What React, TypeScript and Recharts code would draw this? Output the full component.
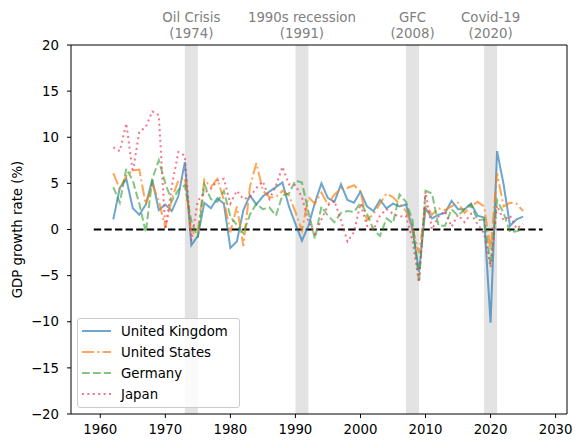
import React from 'react'
import { LineChart, Line, XAxis, YAxis, ReferenceArea, ReferenceLine } from 'recharts'

// years on the x axis (one value per year)
const years: number[] = Array.from({ length: 64 }, (_, i) => 1962 + i)

// annual GDP growth, %
const uk = [
  1.1, 4.5, 5.5, 2.3, 1.6, 2.7, 5.4, 2.1, 2.7, 2.0,
  3.6, 7.3, -1.7, -0.7, 2.9, 2.3, 3.4, 2.8, -2.0, -1.3,
  2.1, 3.7, 2.7, 3.6, 4.1, 4.6, 5.1, 2.5, 0.6, -1.2,
  0.4, 2.9, 5.0, 3.4, 3.0, 4.9, 3.2, 2.9, 4.1, 2.5,
  2.0, 3.2, 2.3, 2.8, 2.5, 2.7, 0.0, -4.6, 2.3, 1.2,
  1.6, 1.8, 3.1, 2.2, 2.2, 2.8, 1.5, 1.3, -10.1, 8.5,
  4.9, 0.4, 1.1, 1.4,
]
const us = [
  6.1, 4.4, 5.8, 6.4, 6.5, 2.7, 4.9, 3.1, 0.2, 3.3,
  5.3, 5.6, -0.5, -0.2, 5.4, 4.6, 5.5, 3.2, -0.3, 2.5,
  -1.8, 4.6, 7.2, 4.2, 3.5, 3.5, 4.2, 3.7, 1.9, -0.1,
  3.5, 2.8, 4.0, 2.7, 3.8, 4.4, 4.5, 4.8, 4.1, 1.0,
  1.7, 2.8, 3.9, 3.5, 2.8, 2.0, 0.1, -2.6, 2.7, 1.6,
  2.3, 2.1, 2.5, 2.9, 1.8, 2.5, 3.0, 2.5, -2.2, 6.1,
  2.5, 2.9, 2.8, 2.0,
]
const germany = [
  4.6, 2.9, 6.6, 5.3, 2.8, -0.3, 5.5, 7.5, 5.0, 3.1,
  4.3, 4.8, 0.9, -0.9, 4.9, 3.3, 3.0, 4.2, 1.4, 0.5,
  -0.4, 1.6, 2.8, 2.2, 2.4, 1.5, 3.7, 3.9, 5.3, 5.1,
  1.9, -1.0, 2.5, 1.5, 0.8, 1.8, 2.0, 1.9, 2.9, 1.7,
  0.0, -0.7, 1.2, 0.7, 3.8, 3.0, 1.0, -5.7, 4.2, 3.9,
  0.4, 0.4, 2.2, 1.5, 2.2, 2.7, 1.0, 1.1, -3.8, 3.2,
  1.8, -0.3, -0.2, 0.1,
]
const japan = [
  8.9, 8.5, 11.5, 6.2, 10.6, 11.1, 12.8, 12.4, 0.0, 4.7,
  8.4, 8.0, -1.2, 3.1, 4.0, 4.4, 5.3, 5.5, 2.8, 4.2,
  3.3, 3.5, 4.5, 5.2, 3.3, 4.7, 6.8, 4.9, 4.8, 3.5,
  0.9, -0.5, 1.1, 2.6, 3.1, 1.0, -1.3, -0.3, 2.8, 0.4,
  0.0, 1.5, 2.2, 1.7, 1.4, 1.5, -1.2, -5.7, 4.1, 0.0,
  1.4, 2.0, 0.3, 1.6, 0.8, 1.7, 0.6, -0.4, -4.1, 2.6,
  1.0, 1.5, 0.1, 0.6,
]

// shaded crisis periods, centred on the labelled year
const crisisNames = ['Oil Crisis', '1990s recession', 'GFC', 'Covid-19']
const crisisYears = [1974, 1991, 2008, 2020]

const xTicks = [1960, 1970, 1980, 1990, 2000, 2010, 2020, 2030]
const yTicks = [-20, -15, -10, -5, 0, 5, 10, 15, 20]
const xDomain: [number, number] = [1955.5, 2031.75]
const zeroLine = [1959, 2028]

const series = [
  { key: 'uk', name: 'United Kingdom', color: '#1f77b4', opacity: 0.65, dash: undefined },
  { key: 'us', name: 'United States', color: '#ff7f0e', opacity: 0.7, dash: '12 3.3 2 3.3' },
  { key: 'germany', name: 'Germany', color: '#2ca02c', opacity: 0.6, dash: '7.7 3.3' },
  { key: 'japan', name: 'Japan', color: '#f03c5a', opacity: 0.7, dash: '2 3.4' },
]

const data = years.map((year, i) => ({
  year,
  uk: uk[i],
  us: us[i],
  germany: germany[i],
  japan: japan[i],
}))

const FONT = '"DejaVu Sans", sans-serif'
const minus = (v: number) => String(v).replace('-', '\u2212')

function CrisisLabel({ viewBox, name, year }: any) {
  const cx = viewBox.x + viewBox.width / 2
  return (
    <text x={cx} textAnchor="middle" fill="#808080" fontSize={13.3} fontFamily={FONT}>
      <tspan x={cx} y={22}>{name}</tspan>
      <tspan x={cx} y={38}>({year})</tspan>
    </text>
  )
}

function ChartLegend() {
  return (
    <div
      style={{
        position: 'absolute',
        left: 77,
        top: 318,
        width: 161,
        height: 88,
        border: '1px solid #cccccc',
        borderRadius: 3,
        background: 'rgba(255,255,255,0.8)',
        fontFamily: FONT,
        fontSize: 13.3,
        color: '#000',
      }}
    >
      {series.map((s, i) => (
        <div key={s.key} style={{ position: 'absolute', left: 0, top: 3 + i * 21, height: 18, display: 'flex', alignItems: 'center' }}>
          <svg width={40} height={18} style={{ display: 'block' }}>
            <line x1={4} x2={33} y1={9} y2={9} stroke={s.color} strokeOpacity={s.opacity} strokeWidth={2} strokeDasharray={s.dash} />
          </svg>
          <span style={{ marginLeft: 3, whiteSpace: 'nowrap' }}>{s.name}</span>
        </div>
      ))}
    </div>
  )
}

export default function App() {
  return (
    <div style={{ position: 'absolute', left: 0, top: 0, width: 583, height: 448, background: '#fff' }}>
      <LineChart width={583} height={448} data={data} margin={{ top: 45, right: 16, bottom: 0, left: 0 }}>
        {crisisYears.map((yr, i) => (
          <ReferenceArea
            key={yr}
            x1={yr - 1}
            x2={yr + 1}
            y1={-20}
            y2={20}
            fill="#808080"
            fillOpacity={0.22}
            stroke="none"
            label={<CrisisLabel name={crisisNames[i]} year={yr} />}
          />
        ))}
        <XAxis
          dataKey="year"
          type="number"
          domain={xDomain}
          ticks={xTicks}
          allowDataOverflow
          height={34}
          tickSize={4}
          tickMargin={7}
          stroke="#000"
          tick={{ fill: '#000', fontSize: 13.3, fontFamily: FONT }}
        />
        <YAxis
          type="number"
          domain={[-20, 20]}
          ticks={yTicks}
          allowDataOverflow
          width={71}
          tickSize={4}
          tickMargin={8}
          stroke="#000"
          tickFormatter={minus}
          tick={{ fill: '#000', fontSize: 13.3, fontFamily: FONT }}
          label={{
            content: () => (
              <text x={17} y={229.5} transform="rotate(-90 17 229.5)" textAnchor="middle" dominantBaseline="central" fontSize={13.3} fontFamily={FONT} fill="#000">
                GDP growth rate (%)
              </text>
            ),
          }}
        />
        <ReferenceLine y={20} stroke="#000" strokeWidth={1} />
        <ReferenceLine x={xDomain[1]} stroke="#000" strokeWidth={1} />
        <ReferenceLine
          segment={[{ x: zeroLine[0], y: 0 }, { x: zeroLine[1], y: 0 }]}
          stroke="#000"
          strokeWidth={2}
          strokeDasharray="7.4 3.2"
        />
        {series.map((s) => (
          <Line
            key={s.key}
            dataKey={s.key}
            name={s.name}
            type="linear"
            stroke={s.color}
            strokeOpacity={s.opacity}
            strokeWidth={2}
            strokeDasharray={s.dash}
            dot={false}
            activeDot={false}
            isAnimationActive={false}
          />
        ))}
      </LineChart>
      <ChartLegend />
    </div>
  )
}
